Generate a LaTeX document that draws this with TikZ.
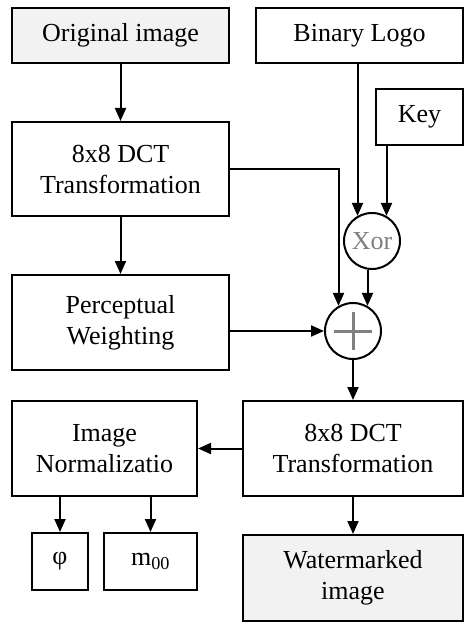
\documentclass[tikz,border=0pt]{standalone}
\usepackage{fontspec}
\setmainfont{Liberation Serif}
\usepackage{tikz}
\usetikzlibrary{arrows.meta,shapes}

\begin{document}
\begin{tikzpicture}[x=1pt, y=-1pt, line width=2pt,
      box/.style={draw, align=center, inner sep=0pt, font=\fontsize{26}{31}\selectfont},
      src/.style={box, fill=gray!10},
      op/.style={draw, circle, minimum size=56pt, inner sep=0pt, font=\fontsize{26}{31}\selectfont},
      arr/.style={-{Triangle[length=13pt,width=11pt]}}]
      \useasboundingbox (0, 0) rectangle (464, 623);
      \node (orig) [src, minimum width=217pt, minimum height=55pt] at (120.5, 35.5) {Original image};
      \node (logo) [box, minimum width=207pt, minimum height=55pt] at (359.5, 35.5) {Binary Logo};
      \node (key) [box, minimum width=87pt, minimum height=56pt] at (419.5, 117) {Key};
      \node (dct) [box, minimum width=217pt, minimum height=94pt] at (120.5, 169) {8x8 DCT\\Transformation};
      \node (xor) [op, text=gray] at (372, 241) {Xor};
      \node (plus) [op] at (353, 331) {};
      \draw [gray, line width=3pt] (plus.center) +(-19, 0) -- +(19, 0)
                                   (plus.center) +(0, -19) -- +(0, 19);
      \node (percept) [box, minimum width=217pt, minimum height=95pt] at (120.5, 322.5) {Perceptual\\Weighting};
      \node (idct) [box, minimum width=220pt, minimum height=95pt] at (353, 448.5) {8x8 DCT\\Transformation};
      \node (norm) [box, minimum width=185pt, minimum height=95pt] at (104.5, 448.5) {Image\\Normalizatio};
      \node (phi) [box, minimum width=56pt, minimum height=57pt] at (60, 561.5) {φ};
      \node (moo) [box, minimum width=93pt, minimum height=57pt] at (150.5, 561.5) {m\textsubscript{00}};
      \node (wm) [src, minimum width=220pt, minimum height=86pt] at (353, 578) {Watermarked\\image};
      \draw [arr] (orig) -- (dct);
      \draw [arr] (dct) -- (percept);
      \draw [arr] (dct.east) -| (plus.120);
      \draw [arr] (logo.south -| xor.120) -- (xor.120);
      \draw [arr] (key.south -| xor.60) -- (xor.60);
      \draw [arr] (plus.60 |- xor.south) -- (plus.60);
      \draw [arr] (plus.west -| percept.east) -- (plus.west);
      \draw [arr] (plus) -- (idct);
      \draw [arr] (idct.west) -- (norm.east);
      \draw [arr] (idct) -- (wm);
      \draw [arr] (norm.south -| phi) -- (phi);
      \draw [arr] (norm.south -| moo) -- (moo);
\end{tikzpicture}
\end{document}
